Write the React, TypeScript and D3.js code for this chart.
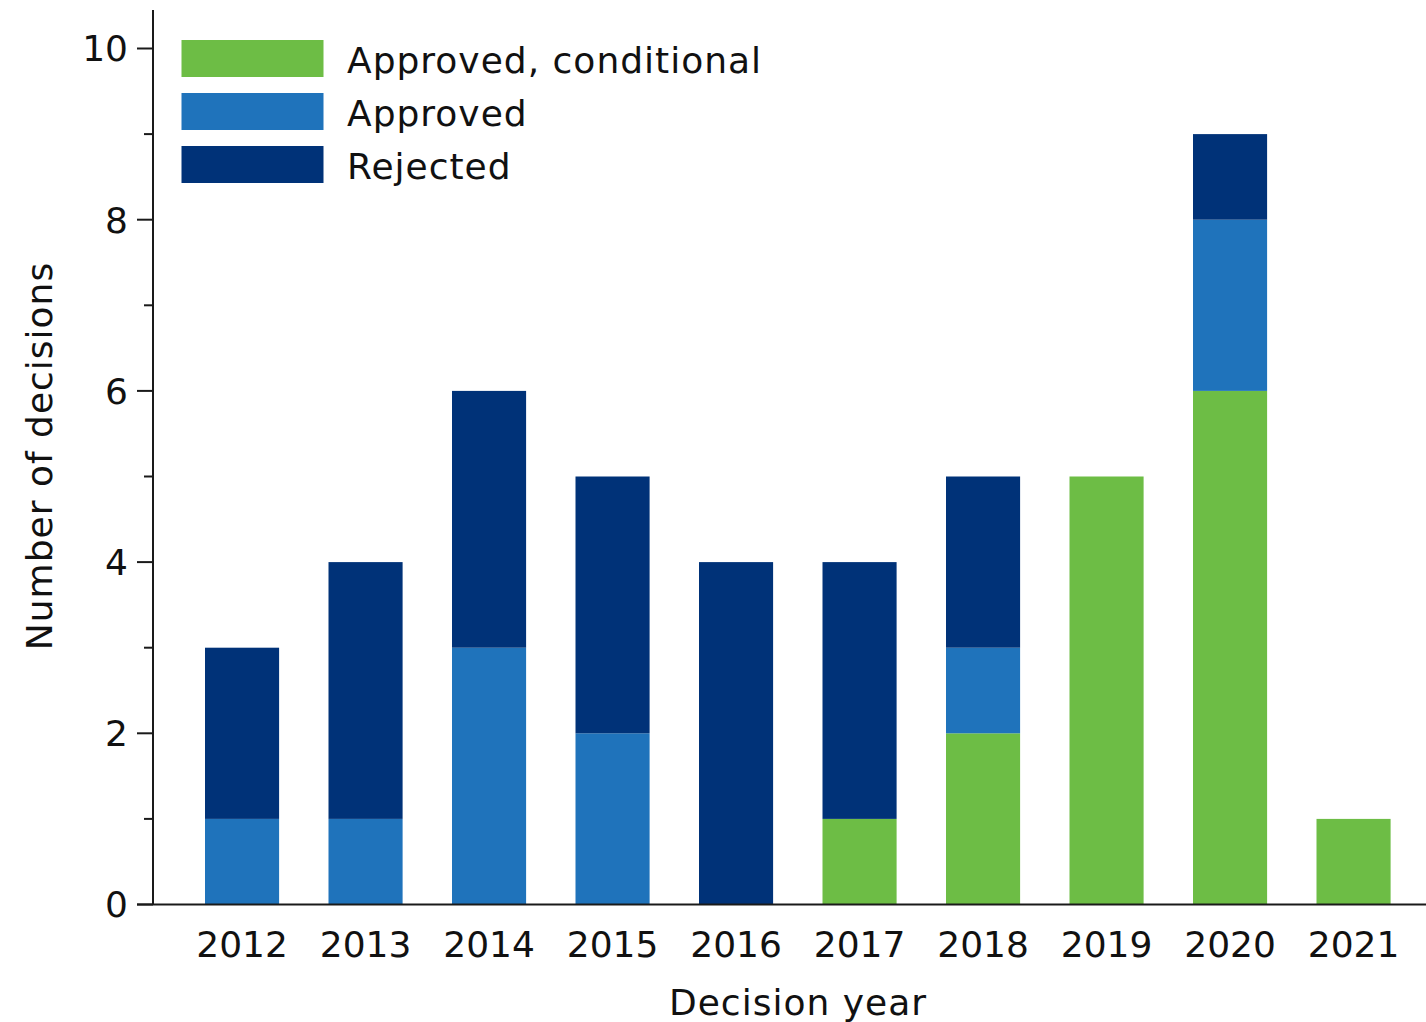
import React, { useRef, useEffect } from 'react';
import * as d3 from 'd3';

const years = ['2012', '2013', '2014', '2015', '2016', '2017', '2018', '2019', '2020', '2021'];
const conditional = [0, 0, 0, 0, 0, 1, 2, 5, 6, 1];
const approved = [1, 1, 3, 2, 0, 0, 1, 0, 2, 0];
const rejected = [2, 3, 3, 3, 4, 3, 2, 0, 1, 0];
const seriesNames = ['Approved, conditional', 'Approved', 'Rejected'];
const seriesColors = ['#6dbd45', '#1f73bb', '#003278'];
const majorTicks = [0, 2, 4, 6, 8, 10];
const minorTicks = [1, 3, 5, 7, 9];

const W = 1426;
const H = 1022;
const FONT = '"DejaVu Sans", Verdana, sans-serif';

const App = () => {
  const svgRef = useRef<SVGSVGElement>(null);

  useEffect(() => {
    const svg = d3.select(svgRef.current);
    svg.selectAll('*').remove();

    const axisX = 153;
    const baseY = 904.5;

    const y = d3.scaleLinear().domain([0, 10]).range([baseY, 48.5]);
    const x = d3.scaleBand<string>()
      .domain(years)
      .range([180.3, 1415.3])
      .paddingInner(0.4)
      .paddingOuter(0.2);

    const rows = years.map((yr, i) => ({
      year: yr,
      [seriesNames[0]]: conditional[i],
      [seriesNames[1]]: approved[i],
      [seriesNames[2]]: rejected[i]
    }));
    const stack = d3.stack<any>().keys(seriesNames);
    const layers = stack(rows);

    // bars
    const g = svg.append('g');
    layers.forEach((layer, li) => {
      g.selectAll(null)
        .data(layer.filter(d => d[1] - d[0] > 0))
        .enter()
        .append('rect')
        .attr('x', d => x(d.data.year)!)
        .attr('width', x.bandwidth())
        .attr('y', d => y(d[1]))
        .attr('height', d => y(d[0]) - y(d[1]))
        .attr('fill', seriesColors[li]);
    });

    // axes
    const axis = svg.append('g').attr('stroke', '#1a1a1a').attr('stroke-width', 2);
    axis.append('line').attr('x1', axisX).attr('x2', axisX).attr('y1', 10).attr('y2', baseY);
    axis.append('line').attr('x1', 137).attr('x2', W).attr('y1', baseY).attr('y2', baseY);
    majorTicks.forEach(t => {
      axis.append('line').attr('x1', 137).attr('x2', axisX).attr('y1', y(t)).attr('y2', y(t));
    });
    minorTicks.forEach(t => {
      axis.append('line').attr('x1', 144).attr('x2', axisX).attr('y1', y(t)).attr('y2', y(t));
    });

    const txt = svg.append('g').attr('font-family', FONT).attr('fill', '#111').attr('font-size', 36);
    majorTicks.forEach(t => {
      txt.append('text')
        .attr('x', 128)
        .attr('y', y(t))
        .attr('dy', '0.36em')
        .attr('text-anchor', 'end')
        .text(t);
    });
    years.forEach(yr => {
      txt.append('text')
        .attr('x', x(yr)! + x.bandwidth() / 2)
        .attr('y', 957)
        .attr('text-anchor', 'middle')
        .text(yr);
    });

    txt.append('text')
      .attr('x', 798)
      .attr('y', 1015)
      .attr('text-anchor', 'middle')
      .attr('letter-spacing', 1)
      .text('Decision year');

    txt.append('text')
      .attr('transform', `translate(52, 456) rotate(-90)`)
      .attr('text-anchor', 'middle')
      .attr('letter-spacing', 1)
      .text('Number of decisions');

    // legend
    seriesNames.forEach((name, i) => {
      const top = 40 + i * 53;
      svg.append('rect')
        .attr('x', 181.5)
        .attr('y', top)
        .attr('width', 142)
        .attr('height', 37)
        .attr('fill', seriesColors[i]);
      txt.append('text')
        .attr('x', 347)
        .attr('y', top + 20.5)
        .attr('dy', '0.36em')
        .attr('letter-spacing', 1)
        .text(name);
    });
  }, []);

  return (
    <svg
      ref={svgRef}
      width={W}
      height={H}
      style={{ position: 'absolute', left: 0, top: 0, background: 'white' }}
    />
  );
};

export default App;
